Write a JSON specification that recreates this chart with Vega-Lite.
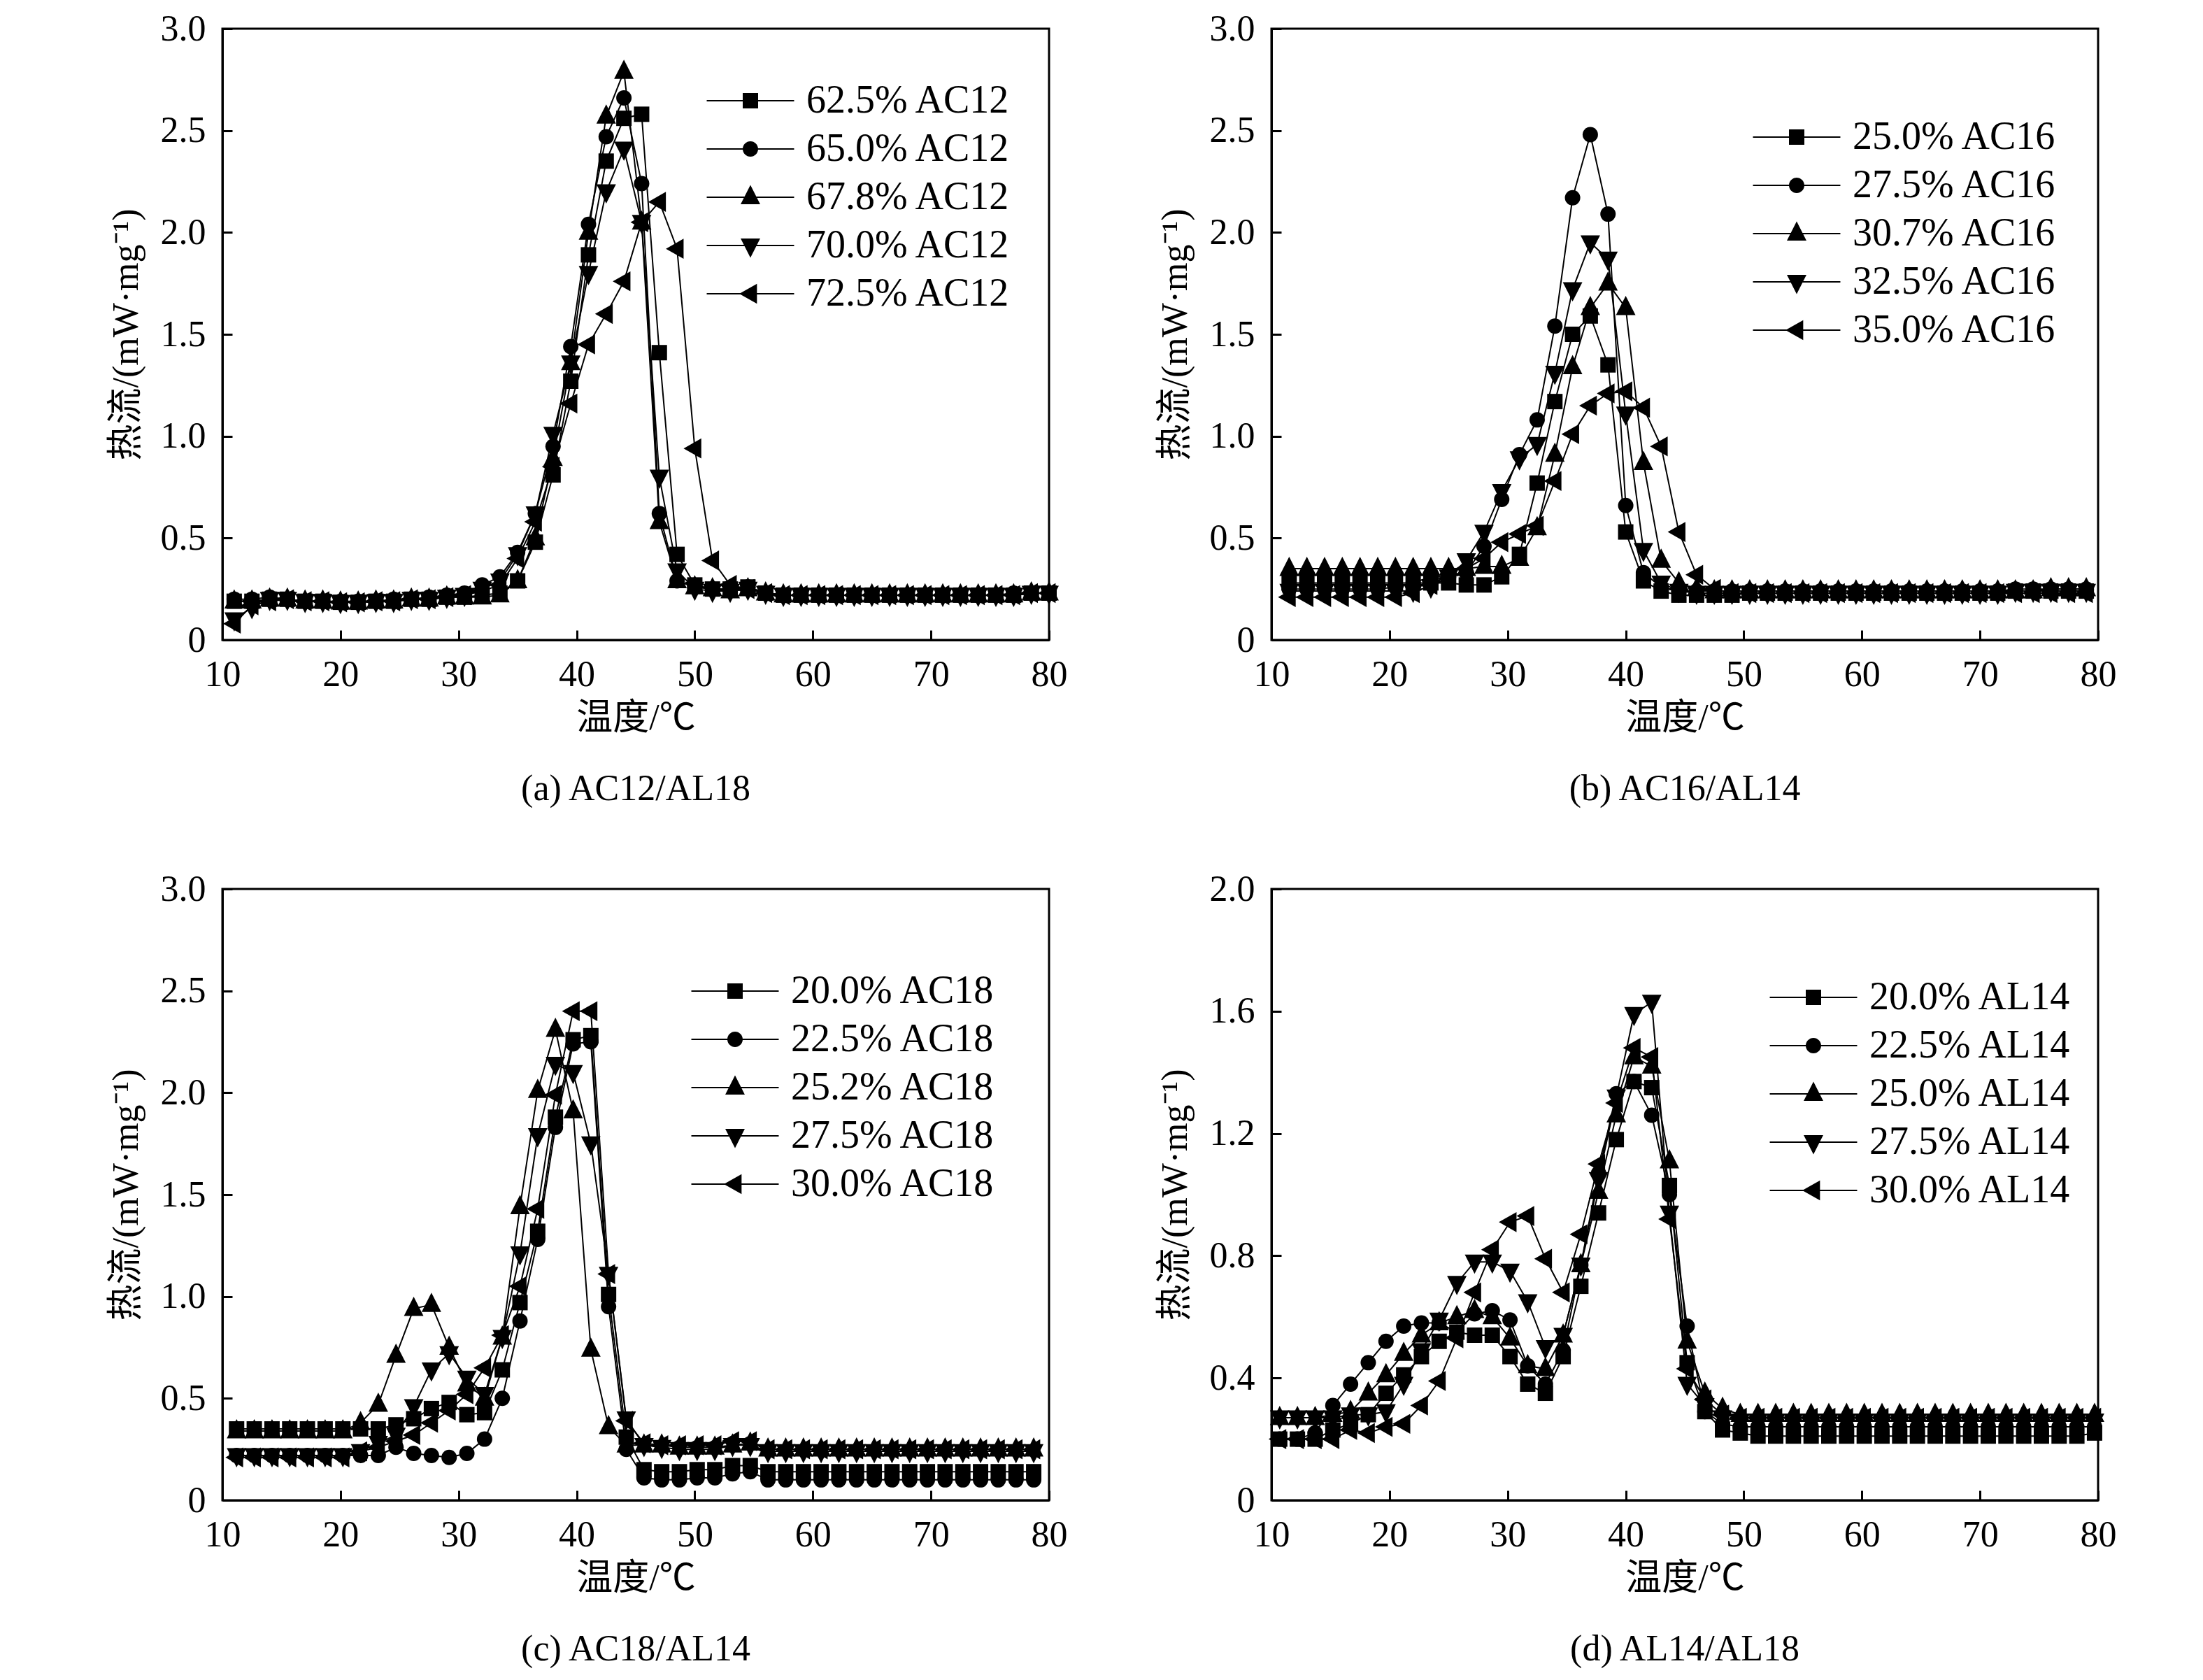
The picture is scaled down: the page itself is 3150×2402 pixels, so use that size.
{
  "$schema": "https://vega.github.io/schema/vega-lite/v6.json",
  "background": "white",
  "padding": {"left": 152, "top": 13, "right": 10, "bottom": 10},
  "config": {
    "font": "Liberation Serif, Noto Sans CJK SC",
    "view": {"stroke": "black", "strokeWidth": 3},
    "axis": {
      "grid": false, "domainColor": "black", "domainWidth": 3,
      "tickColor": "black", "tickWidth": 3, "tickSize": -14,
      "labelFont": "Liberation Serif", "labelFontSize": 52, "labelColor": "black", "labelPadding": 38,
      "labelFlush": false, "labelOverlap": false,
      "titleFont": "Liberation Serif, Noto Sans CJK SC", "titleFontSize": 52, "titleFontWeight": "normal", "titleColor": "black"
    },
    "axisX": {"titlePadding": 11},
    "axisY": {"titlePadding": 22},
    "legend": {
      "orient": "none", "title": null, "padding": 0,
      "labelFont": "Liberation Serif", "labelFontSize": 56, "labelColor": "black", "labelLimit": 0,
      "labelOffset": 52, "rowPadding": 13, "symbolSize": 484,
      "symbolFillColor": "black", "symbolStrokeWidth": 0, "symbolOpacity": 1
    },
    "title": {"font": "Liberation Serif", "fontSize": 52, "fontWeight": "normal", "color": "black", "orient": "bottom", "anchor": "middle", "offset": 51}
  },
  "columns": 2,
  "spacing": {"row": 356, "column": 318},
  "bounds": "flush",
  "datasets": {
    "a": [
      {"t":11,"v":0.19,"s":"62.5% AC12"},{"t":12.5,"v":0.19,"s":"62.5% AC12"},{"t":14,"v":0.20,"s":"62.5% AC12"},{"t":15.5,"v":0.20,"s":"62.5% AC12"},{"t":17,"v":0.19,"s":"62.5% AC12"},{"t":18.5,"v":0.19,"s":"62.5% AC12"},{"t":20,"v":0.185,"s":"62.5% AC12"},{"t":21.5,"v":0.185,"s":"62.5% AC12"},{"t":23,"v":0.19,"s":"62.5% AC12"},{"t":24.5,"v":0.19,"s":"62.5% AC12"},{"t":26,"v":0.20,"s":"62.5% AC12"},{"t":27.5,"v":0.20,"s":"62.5% AC12"},{"t":29,"v":0.21,"s":"62.5% AC12"},{"t":30.5,"v":0.21,"s":"62.5% AC12"},{"t":32,"v":0.22,"s":"62.5% AC12"},{"t":33.5,"v":0.23,"s":"62.5% AC12"},{"t":35,"v":0.29,"s":"62.5% AC12"},{"t":36.5,"v":0.48,"s":"62.5% AC12"},{"t":38,"v":0.81,"s":"62.5% AC12"},{"t":39.5,"v":1.27,"s":"62.5% AC12"},{"t":41,"v":1.89,"s":"62.5% AC12"},{"t":42.5,"v":2.35,"s":"62.5% AC12"},{"t":44,"v":2.56,"s":"62.5% AC12"},{"t":45.5,"v":2.58,"s":"62.5% AC12"},{"t":47,"v":1.41,"s":"62.5% AC12"},{"t":48.5,"v":0.42,"s":"62.5% AC12"},{"t":50,"v":0.27,"s":"62.5% AC12"},{"t":51.5,"v":0.25,"s":"62.5% AC12"},{"t":53,"v":0.25,"s":"62.5% AC12"},{"t":54.5,"v":0.26,"s":"62.5% AC12"},{"t":56,"v":0.23,"s":"62.5% AC12"},{"t":57.5,"v":0.22,"s":"62.5% AC12"},{"t":59,"v":0.22,"s":"62.5% AC12"},{"t":60.5,"v":0.22,"s":"62.5% AC12"},{"t":62,"v":0.22,"s":"62.5% AC12"},{"t":63.5,"v":0.22,"s":"62.5% AC12"},{"t":65,"v":0.22,"s":"62.5% AC12"},{"t":66.5,"v":0.22,"s":"62.5% AC12"},{"t":68,"v":0.22,"s":"62.5% AC12"},{"t":69.5,"v":0.22,"s":"62.5% AC12"},{"t":71,"v":0.22,"s":"62.5% AC12"},{"t":72.5,"v":0.22,"s":"62.5% AC12"},{"t":74,"v":0.22,"s":"62.5% AC12"},{"t":75.5,"v":0.22,"s":"62.5% AC12"},{"t":77,"v":0.22,"s":"62.5% AC12"},{"t":78.5,"v":0.23,"s":"62.5% AC12"},{"t":80,"v":0.23,"s":"62.5% AC12"},
      {"t":11,"v":0.20,"s":"65.0% AC12"},{"t":12.5,"v":0.20,"s":"65.0% AC12"},{"t":14,"v":0.21,"s":"65.0% AC12"},{"t":15.5,"v":0.20,"s":"65.0% AC12"},{"t":17,"v":0.19,"s":"65.0% AC12"},{"t":18.5,"v":0.19,"s":"65.0% AC12"},{"t":20,"v":0.19,"s":"65.0% AC12"},{"t":21.5,"v":0.19,"s":"65.0% AC12"},{"t":23,"v":0.19,"s":"65.0% AC12"},{"t":24.5,"v":0.20,"s":"65.0% AC12"},{"t":26,"v":0.20,"s":"65.0% AC12"},{"t":27.5,"v":0.21,"s":"65.0% AC12"},{"t":29,"v":0.22,"s":"65.0% AC12"},{"t":30.5,"v":0.23,"s":"65.0% AC12"},{"t":32,"v":0.27,"s":"65.0% AC12"},{"t":33.5,"v":0.31,"s":"65.0% AC12"},{"t":35,"v":0.43,"s":"65.0% AC12"},{"t":36.5,"v":0.62,"s":"65.0% AC12"},{"t":38,"v":0.95,"s":"65.0% AC12"},{"t":39.5,"v":1.44,"s":"65.0% AC12"},{"t":41,"v":2.04,"s":"65.0% AC12"},{"t":42.5,"v":2.47,"s":"65.0% AC12"},{"t":44,"v":2.66,"s":"65.0% AC12"},{"t":45.5,"v":2.24,"s":"65.0% AC12"},{"t":47,"v":0.62,"s":"65.0% AC12"},{"t":48.5,"v":0.29,"s":"65.0% AC12"},{"t":50,"v":0.26,"s":"65.0% AC12"},{"t":51.5,"v":0.25,"s":"65.0% AC12"},{"t":53,"v":0.25,"s":"65.0% AC12"},{"t":54.5,"v":0.26,"s":"65.0% AC12"},{"t":56,"v":0.23,"s":"65.0% AC12"},{"t":57.5,"v":0.22,"s":"65.0% AC12"},{"t":59,"v":0.22,"s":"65.0% AC12"},{"t":60.5,"v":0.22,"s":"65.0% AC12"},{"t":62,"v":0.22,"s":"65.0% AC12"},{"t":63.5,"v":0.22,"s":"65.0% AC12"},{"t":65,"v":0.22,"s":"65.0% AC12"},{"t":66.5,"v":0.22,"s":"65.0% AC12"},{"t":68,"v":0.22,"s":"65.0% AC12"},{"t":69.5,"v":0.22,"s":"65.0% AC12"},{"t":71,"v":0.22,"s":"65.0% AC12"},{"t":72.5,"v":0.22,"s":"65.0% AC12"},{"t":74,"v":0.22,"s":"65.0% AC12"},{"t":75.5,"v":0.22,"s":"65.0% AC12"},{"t":77,"v":0.23,"s":"65.0% AC12"},{"t":78.5,"v":0.23,"s":"65.0% AC12"},{"t":80,"v":0.23,"s":"65.0% AC12"},
      {"t":11,"v":0.19,"s":"67.8% AC12"},{"t":12.5,"v":0.19,"s":"67.8% AC12"},{"t":14,"v":0.20,"s":"67.8% AC12"},{"t":15.5,"v":0.20,"s":"67.8% AC12"},{"t":17,"v":0.19,"s":"67.8% AC12"},{"t":18.5,"v":0.19,"s":"67.8% AC12"},{"t":20,"v":0.185,"s":"67.8% AC12"},{"t":21.5,"v":0.185,"s":"67.8% AC12"},{"t":23,"v":0.19,"s":"67.8% AC12"},{"t":24.5,"v":0.19,"s":"67.8% AC12"},{"t":26,"v":0.20,"s":"67.8% AC12"},{"t":27.5,"v":0.20,"s":"67.8% AC12"},{"t":29,"v":0.21,"s":"67.8% AC12"},{"t":30.5,"v":0.21,"s":"67.8% AC12"},{"t":32,"v":0.21,"s":"67.8% AC12"},{"t":33.5,"v":0.22,"s":"67.8% AC12"},{"t":35,"v":0.29,"s":"67.8% AC12"},{"t":36.5,"v":0.50,"s":"67.8% AC12"},{"t":38,"v":0.89,"s":"67.8% AC12"},{"t":39.5,"v":1.36,"s":"67.8% AC12"},{"t":41,"v":2.00,"s":"67.8% AC12"},{"t":42.5,"v":2.57,"s":"67.8% AC12"},{"t":44,"v":2.79,"s":"67.8% AC12"},{"t":45.5,"v":2.05,"s":"67.8% AC12"},{"t":47,"v":0.58,"s":"67.8% AC12"},{"t":48.5,"v":0.29,"s":"67.8% AC12"},{"t":50,"v":0.26,"s":"67.8% AC12"},{"t":51.5,"v":0.25,"s":"67.8% AC12"},{"t":53,"v":0.24,"s":"67.8% AC12"},{"t":54.5,"v":0.25,"s":"67.8% AC12"},{"t":56,"v":0.23,"s":"67.8% AC12"},{"t":57.5,"v":0.22,"s":"67.8% AC12"},{"t":59,"v":0.22,"s":"67.8% AC12"},{"t":60.5,"v":0.22,"s":"67.8% AC12"},{"t":62,"v":0.22,"s":"67.8% AC12"},{"t":63.5,"v":0.22,"s":"67.8% AC12"},{"t":65,"v":0.22,"s":"67.8% AC12"},{"t":66.5,"v":0.22,"s":"67.8% AC12"},{"t":68,"v":0.22,"s":"67.8% AC12"},{"t":69.5,"v":0.22,"s":"67.8% AC12"},{"t":71,"v":0.22,"s":"67.8% AC12"},{"t":72.5,"v":0.22,"s":"67.8% AC12"},{"t":74,"v":0.22,"s":"67.8% AC12"},{"t":75.5,"v":0.22,"s":"67.8% AC12"},{"t":77,"v":0.22,"s":"67.8% AC12"},{"t":78.5,"v":0.23,"s":"67.8% AC12"},{"t":80,"v":0.23,"s":"67.8% AC12"},
      {"t":11,"v":0.10,"s":"70.0% AC12"},{"t":12.5,"v":0.16,"s":"70.0% AC12"},{"t":14,"v":0.20,"s":"70.0% AC12"},{"t":15.5,"v":0.20,"s":"70.0% AC12"},{"t":17,"v":0.19,"s":"70.0% AC12"},{"t":18.5,"v":0.19,"s":"70.0% AC12"},{"t":20,"v":0.185,"s":"70.0% AC12"},{"t":21.5,"v":0.185,"s":"70.0% AC12"},{"t":23,"v":0.19,"s":"70.0% AC12"},{"t":24.5,"v":0.19,"s":"70.0% AC12"},{"t":26,"v":0.20,"s":"70.0% AC12"},{"t":27.5,"v":0.20,"s":"70.0% AC12"},{"t":29,"v":0.21,"s":"70.0% AC12"},{"t":30.5,"v":0.22,"s":"70.0% AC12"},{"t":32,"v":0.25,"s":"70.0% AC12"},{"t":33.5,"v":0.29,"s":"70.0% AC12"},{"t":35,"v":0.42,"s":"70.0% AC12"},{"t":36.5,"v":0.62,"s":"70.0% AC12"},{"t":38,"v":1.01,"s":"70.0% AC12"},{"t":39.5,"v":1.36,"s":"70.0% AC12"},{"t":41,"v":1.80,"s":"70.0% AC12"},{"t":42.5,"v":2.20,"s":"70.0% AC12"},{"t":44,"v":2.41,"s":"70.0% AC12"},{"t":45.5,"v":2.05,"s":"70.0% AC12"},{"t":47,"v":0.80,"s":"70.0% AC12"},{"t":48.5,"v":0.34,"s":"70.0% AC12"},{"t":50,"v":0.25,"s":"70.0% AC12"},{"t":51.5,"v":0.24,"s":"70.0% AC12"},{"t":53,"v":0.24,"s":"70.0% AC12"},{"t":54.5,"v":0.25,"s":"70.0% AC12"},{"t":56,"v":0.23,"s":"70.0% AC12"},{"t":57.5,"v":0.22,"s":"70.0% AC12"},{"t":59,"v":0.22,"s":"70.0% AC12"},{"t":60.5,"v":0.22,"s":"70.0% AC12"},{"t":62,"v":0.22,"s":"70.0% AC12"},{"t":63.5,"v":0.22,"s":"70.0% AC12"},{"t":65,"v":0.22,"s":"70.0% AC12"},{"t":66.5,"v":0.22,"s":"70.0% AC12"},{"t":68,"v":0.22,"s":"70.0% AC12"},{"t":69.5,"v":0.22,"s":"70.0% AC12"},{"t":71,"v":0.22,"s":"70.0% AC12"},{"t":72.5,"v":0.22,"s":"70.0% AC12"},{"t":74,"v":0.22,"s":"70.0% AC12"},{"t":75.5,"v":0.22,"s":"70.0% AC12"},{"t":77,"v":0.22,"s":"70.0% AC12"},{"t":78.5,"v":0.23,"s":"70.0% AC12"},{"t":80,"v":0.23,"s":"70.0% AC12"},
      {"t":11,"v":0.08,"s":"72.5% AC12"},{"t":12.5,"v":0.17,"s":"72.5% AC12"},{"t":14,"v":0.19,"s":"72.5% AC12"},{"t":15.5,"v":0.20,"s":"72.5% AC12"},{"t":17,"v":0.19,"s":"72.5% AC12"},{"t":18.5,"v":0.19,"s":"72.5% AC12"},{"t":20,"v":0.185,"s":"72.5% AC12"},{"t":21.5,"v":0.185,"s":"72.5% AC12"},{"t":23,"v":0.19,"s":"72.5% AC12"},{"t":24.5,"v":0.19,"s":"72.5% AC12"},{"t":26,"v":0.20,"s":"72.5% AC12"},{"t":27.5,"v":0.20,"s":"72.5% AC12"},{"t":29,"v":0.21,"s":"72.5% AC12"},{"t":30.5,"v":0.22,"s":"72.5% AC12"},{"t":32,"v":0.24,"s":"72.5% AC12"},{"t":33.5,"v":0.27,"s":"72.5% AC12"},{"t":35,"v":0.40,"s":"72.5% AC12"},{"t":36.5,"v":0.58,"s":"72.5% AC12"},{"t":38,"v":0.85,"s":"72.5% AC12"},{"t":39.5,"v":1.16,"s":"72.5% AC12"},{"t":41,"v":1.45,"s":"72.5% AC12"},{"t":42.5,"v":1.60,"s":"72.5% AC12"},{"t":44,"v":1.76,"s":"72.5% AC12"},{"t":45.5,"v":2.05,"s":"72.5% AC12"},{"t":47,"v":2.15,"s":"72.5% AC12"},{"t":48.5,"v":1.92,"s":"72.5% AC12"},{"t":50,"v":0.94,"s":"72.5% AC12"},{"t":51.5,"v":0.39,"s":"72.5% AC12"},{"t":53,"v":0.27,"s":"72.5% AC12"},{"t":54.5,"v":0.25,"s":"72.5% AC12"},{"t":56,"v":0.23,"s":"72.5% AC12"},{"t":57.5,"v":0.22,"s":"72.5% AC12"},{"t":59,"v":0.22,"s":"72.5% AC12"},{"t":60.5,"v":0.22,"s":"72.5% AC12"},{"t":62,"v":0.22,"s":"72.5% AC12"},{"t":63.5,"v":0.22,"s":"72.5% AC12"},{"t":65,"v":0.22,"s":"72.5% AC12"},{"t":66.5,"v":0.22,"s":"72.5% AC12"},{"t":68,"v":0.22,"s":"72.5% AC12"},{"t":69.5,"v":0.22,"s":"72.5% AC12"},{"t":71,"v":0.22,"s":"72.5% AC12"},{"t":72.5,"v":0.22,"s":"72.5% AC12"},{"t":74,"v":0.22,"s":"72.5% AC12"},{"t":75.5,"v":0.22,"s":"72.5% AC12"},{"t":77,"v":0.22,"s":"72.5% AC12"},{"t":78.5,"v":0.23,"s":"72.5% AC12"},{"t":80,"v":0.23,"s":"72.5% AC12"}
    ],
    "b": [
      {"t":11.5,"v":0.28,"s":"25.0% AC16"},{"t":13,"v":0.28,"s":"25.0% AC16"},{"t":14.5,"v":0.28,"s":"25.0% AC16"},{"t":16,"v":0.28,"s":"25.0% AC16"},{"t":17.5,"v":0.28,"s":"25.0% AC16"},{"t":19,"v":0.28,"s":"25.0% AC16"},{"t":20.5,"v":0.28,"s":"25.0% AC16"},{"t":22,"v":0.28,"s":"25.0% AC16"},{"t":23.5,"v":0.28,"s":"25.0% AC16"},{"t":25,"v":0.28,"s":"25.0% AC16"},{"t":26.5,"v":0.27,"s":"25.0% AC16"},{"t":28,"v":0.27,"s":"25.0% AC16"},{"t":29.5,"v":0.31,"s":"25.0% AC16"},{"t":31,"v":0.42,"s":"25.0% AC16"},{"t":32.5,"v":0.77,"s":"25.0% AC16"},{"t":34,"v":1.17,"s":"25.0% AC16"},{"t":35.5,"v":1.50,"s":"25.0% AC16"},{"t":37,"v":1.59,"s":"25.0% AC16"},{"t":38.5,"v":1.35,"s":"25.0% AC16"},{"t":40,"v":0.53,"s":"25.0% AC16"},{"t":41.5,"v":0.29,"s":"25.0% AC16"},{"t":43,"v":0.24,"s":"25.0% AC16"},{"t":44.5,"v":0.22,"s":"25.0% AC16"},{"t":46,"v":0.22,"s":"25.0% AC16"},{"t":47.5,"v":0.22,"s":"25.0% AC16"},{"t":49,"v":0.22,"s":"25.0% AC16"},{"t":50.5,"v":0.23,"s":"25.0% AC16"},{"t":52,"v":0.23,"s":"25.0% AC16"},{"t":53.5,"v":0.23,"s":"25.0% AC16"},{"t":55,"v":0.23,"s":"25.0% AC16"},{"t":56.5,"v":0.23,"s":"25.0% AC16"},{"t":58,"v":0.23,"s":"25.0% AC16"},{"t":59.5,"v":0.23,"s":"25.0% AC16"},{"t":61,"v":0.23,"s":"25.0% AC16"},{"t":62.5,"v":0.23,"s":"25.0% AC16"},{"t":64,"v":0.23,"s":"25.0% AC16"},{"t":65.5,"v":0.23,"s":"25.0% AC16"},{"t":67,"v":0.23,"s":"25.0% AC16"},{"t":68.5,"v":0.23,"s":"25.0% AC16"},{"t":70,"v":0.23,"s":"25.0% AC16"},{"t":71.5,"v":0.23,"s":"25.0% AC16"},{"t":73,"v":0.24,"s":"25.0% AC16"},{"t":74.5,"v":0.24,"s":"25.0% AC16"},{"t":76,"v":0.24,"s":"25.0% AC16"},{"t":77.5,"v":0.24,"s":"25.0% AC16"},{"t":79,"v":0.24,"s":"25.0% AC16"},
      {"t":11.5,"v":0.25,"s":"27.5% AC16"},{"t":13,"v":0.25,"s":"27.5% AC16"},{"t":14.5,"v":0.25,"s":"27.5% AC16"},{"t":16,"v":0.25,"s":"27.5% AC16"},{"t":17.5,"v":0.25,"s":"27.5% AC16"},{"t":19,"v":0.25,"s":"27.5% AC16"},{"t":20.5,"v":0.26,"s":"27.5% AC16"},{"t":22,"v":0.28,"s":"27.5% AC16"},{"t":23.5,"v":0.31,"s":"27.5% AC16"},{"t":25,"v":0.31,"s":"27.5% AC16"},{"t":26.5,"v":0.33,"s":"27.5% AC16"},{"t":28,"v":0.46,"s":"27.5% AC16"},{"t":29.5,"v":0.69,"s":"27.5% AC16"},{"t":31,"v":0.91,"s":"27.5% AC16"},{"t":32.5,"v":1.08,"s":"27.5% AC16"},{"t":34,"v":1.54,"s":"27.5% AC16"},{"t":35.5,"v":2.17,"s":"27.5% AC16"},{"t":37,"v":2.48,"s":"27.5% AC16"},{"t":38.5,"v":2.09,"s":"27.5% AC16"},{"t":40,"v":0.66,"s":"27.5% AC16"},{"t":41.5,"v":0.33,"s":"27.5% AC16"},{"t":43,"v":0.26,"s":"27.5% AC16"},{"t":44.5,"v":0.24,"s":"27.5% AC16"},{"t":46,"v":0.24,"s":"27.5% AC16"},{"t":47.5,"v":0.24,"s":"27.5% AC16"},{"t":49,"v":0.24,"s":"27.5% AC16"},{"t":50.5,"v":0.24,"s":"27.5% AC16"},{"t":52,"v":0.24,"s":"27.5% AC16"},{"t":53.5,"v":0.24,"s":"27.5% AC16"},{"t":55,"v":0.24,"s":"27.5% AC16"},{"t":56.5,"v":0.24,"s":"27.5% AC16"},{"t":58,"v":0.24,"s":"27.5% AC16"},{"t":59.5,"v":0.24,"s":"27.5% AC16"},{"t":61,"v":0.24,"s":"27.5% AC16"},{"t":62.5,"v":0.24,"s":"27.5% AC16"},{"t":64,"v":0.24,"s":"27.5% AC16"},{"t":65.5,"v":0.24,"s":"27.5% AC16"},{"t":67,"v":0.24,"s":"27.5% AC16"},{"t":68.5,"v":0.24,"s":"27.5% AC16"},{"t":70,"v":0.24,"s":"27.5% AC16"},{"t":71.5,"v":0.24,"s":"27.5% AC16"},{"t":73,"v":0.25,"s":"27.5% AC16"},{"t":74.5,"v":0.25,"s":"27.5% AC16"},{"t":76,"v":0.25,"s":"27.5% AC16"},{"t":77.5,"v":0.25,"s":"27.5% AC16"},{"t":79,"v":0.25,"s":"27.5% AC16"},
      {"t":11.5,"v":0.35,"s":"30.7% AC16"},{"t":13,"v":0.35,"s":"30.7% AC16"},{"t":14.5,"v":0.35,"s":"30.7% AC16"},{"t":16,"v":0.35,"s":"30.7% AC16"},{"t":17.5,"v":0.35,"s":"30.7% AC16"},{"t":19,"v":0.35,"s":"30.7% AC16"},{"t":20.5,"v":0.35,"s":"30.7% AC16"},{"t":22,"v":0.35,"s":"30.7% AC16"},{"t":23.5,"v":0.35,"s":"30.7% AC16"},{"t":25,"v":0.35,"s":"30.7% AC16"},{"t":26.5,"v":0.35,"s":"30.7% AC16"},{"t":28,"v":0.36,"s":"30.7% AC16"},{"t":29.5,"v":0.36,"s":"30.7% AC16"},{"t":31,"v":0.40,"s":"30.7% AC16"},{"t":32.5,"v":0.55,"s":"30.7% AC16"},{"t":34,"v":0.91,"s":"30.7% AC16"},{"t":35.5,"v":1.34,"s":"30.7% AC16"},{"t":37,"v":1.63,"s":"30.7% AC16"},{"t":38.5,"v":1.75,"s":"30.7% AC16"},{"t":40,"v":1.63,"s":"30.7% AC16"},{"t":41.5,"v":0.87,"s":"30.7% AC16"},{"t":43,"v":0.39,"s":"30.7% AC16"},{"t":44.5,"v":0.28,"s":"30.7% AC16"},{"t":46,"v":0.25,"s":"30.7% AC16"},{"t":47.5,"v":0.24,"s":"30.7% AC16"},{"t":49,"v":0.24,"s":"30.7% AC16"},{"t":50.5,"v":0.24,"s":"30.7% AC16"},{"t":52,"v":0.24,"s":"30.7% AC16"},{"t":53.5,"v":0.24,"s":"30.7% AC16"},{"t":55,"v":0.24,"s":"30.7% AC16"},{"t":56.5,"v":0.24,"s":"30.7% AC16"},{"t":58,"v":0.24,"s":"30.7% AC16"},{"t":59.5,"v":0.24,"s":"30.7% AC16"},{"t":61,"v":0.24,"s":"30.7% AC16"},{"t":62.5,"v":0.24,"s":"30.7% AC16"},{"t":64,"v":0.24,"s":"30.7% AC16"},{"t":65.5,"v":0.24,"s":"30.7% AC16"},{"t":67,"v":0.24,"s":"30.7% AC16"},{"t":68.5,"v":0.24,"s":"30.7% AC16"},{"t":70,"v":0.24,"s":"30.7% AC16"},{"t":71.5,"v":0.24,"s":"30.7% AC16"},{"t":73,"v":0.24,"s":"30.7% AC16"},{"t":74.5,"v":0.24,"s":"30.7% AC16"},{"t":76,"v":0.25,"s":"30.7% AC16"},{"t":77.5,"v":0.25,"s":"30.7% AC16"},{"t":79,"v":0.25,"s":"30.7% AC16"},
      {"t":11.5,"v":0.24,"s":"32.5% AC16"},{"t":13,"v":0.24,"s":"32.5% AC16"},{"t":14.5,"v":0.24,"s":"32.5% AC16"},{"t":16,"v":0.24,"s":"32.5% AC16"},{"t":17.5,"v":0.24,"s":"32.5% AC16"},{"t":19,"v":0.24,"s":"32.5% AC16"},{"t":20.5,"v":0.24,"s":"32.5% AC16"},{"t":22,"v":0.24,"s":"32.5% AC16"},{"t":23.5,"v":0.26,"s":"32.5% AC16"},{"t":25,"v":0.31,"s":"32.5% AC16"},{"t":26.5,"v":0.39,"s":"32.5% AC16"},{"t":28,"v":0.53,"s":"32.5% AC16"},{"t":29.5,"v":0.73,"s":"32.5% AC16"},{"t":31,"v":0.89,"s":"32.5% AC16"},{"t":32.5,"v":0.96,"s":"32.5% AC16"},{"t":34,"v":1.31,"s":"32.5% AC16"},{"t":35.5,"v":1.72,"s":"32.5% AC16"},{"t":37,"v":1.95,"s":"32.5% AC16"},{"t":38.5,"v":1.87,"s":"32.5% AC16"},{"t":40,"v":1.11,"s":"32.5% AC16"},{"t":41.5,"v":0.44,"s":"32.5% AC16"},{"t":43,"v":0.28,"s":"32.5% AC16"},{"t":44.5,"v":0.24,"s":"32.5% AC16"},{"t":46,"v":0.23,"s":"32.5% AC16"},{"t":47.5,"v":0.23,"s":"32.5% AC16"},{"t":49,"v":0.23,"s":"32.5% AC16"},{"t":50.5,"v":0.23,"s":"32.5% AC16"},{"t":52,"v":0.23,"s":"32.5% AC16"},{"t":53.5,"v":0.23,"s":"32.5% AC16"},{"t":55,"v":0.23,"s":"32.5% AC16"},{"t":56.5,"v":0.23,"s":"32.5% AC16"},{"t":58,"v":0.23,"s":"32.5% AC16"},{"t":59.5,"v":0.23,"s":"32.5% AC16"},{"t":61,"v":0.23,"s":"32.5% AC16"},{"t":62.5,"v":0.23,"s":"32.5% AC16"},{"t":64,"v":0.23,"s":"32.5% AC16"},{"t":65.5,"v":0.23,"s":"32.5% AC16"},{"t":67,"v":0.23,"s":"32.5% AC16"},{"t":68.5,"v":0.23,"s":"32.5% AC16"},{"t":70,"v":0.23,"s":"32.5% AC16"},{"t":71.5,"v":0.23,"s":"32.5% AC16"},{"t":73,"v":0.24,"s":"32.5% AC16"},{"t":74.5,"v":0.24,"s":"32.5% AC16"},{"t":76,"v":0.24,"s":"32.5% AC16"},{"t":77.5,"v":0.24,"s":"32.5% AC16"},{"t":79,"v":0.24,"s":"32.5% AC16"},
      {"t":11.5,"v":0.21,"s":"35.0% AC16"},{"t":13,"v":0.21,"s":"35.0% AC16"},{"t":14.5,"v":0.21,"s":"35.0% AC16"},{"t":16,"v":0.21,"s":"35.0% AC16"},{"t":17.5,"v":0.21,"s":"35.0% AC16"},{"t":19,"v":0.21,"s":"35.0% AC16"},{"t":20.5,"v":0.21,"s":"35.0% AC16"},{"t":22,"v":0.23,"s":"35.0% AC16"},{"t":23.5,"v":0.27,"s":"35.0% AC16"},{"t":25,"v":0.30,"s":"35.0% AC16"},{"t":26.5,"v":0.35,"s":"35.0% AC16"},{"t":28,"v":0.40,"s":"35.0% AC16"},{"t":29.5,"v":0.48,"s":"35.0% AC16"},{"t":31,"v":0.52,"s":"35.0% AC16"},{"t":32.5,"v":0.56,"s":"35.0% AC16"},{"t":34,"v":0.78,"s":"35.0% AC16"},{"t":35.5,"v":1.01,"s":"35.0% AC16"},{"t":37,"v":1.15,"s":"35.0% AC16"},{"t":38.5,"v":1.21,"s":"35.0% AC16"},{"t":40,"v":1.22,"s":"35.0% AC16"},{"t":41.5,"v":1.14,"s":"35.0% AC16"},{"t":43,"v":0.95,"s":"35.0% AC16"},{"t":44.5,"v":0.53,"s":"35.0% AC16"},{"t":46,"v":0.32,"s":"35.0% AC16"},{"t":47.5,"v":0.25,"s":"35.0% AC16"},{"t":49,"v":0.23,"s":"35.0% AC16"},{"t":50.5,"v":0.23,"s":"35.0% AC16"},{"t":52,"v":0.23,"s":"35.0% AC16"},{"t":53.5,"v":0.23,"s":"35.0% AC16"},{"t":55,"v":0.23,"s":"35.0% AC16"},{"t":56.5,"v":0.23,"s":"35.0% AC16"},{"t":58,"v":0.23,"s":"35.0% AC16"},{"t":59.5,"v":0.23,"s":"35.0% AC16"},{"t":61,"v":0.23,"s":"35.0% AC16"},{"t":62.5,"v":0.23,"s":"35.0% AC16"},{"t":64,"v":0.23,"s":"35.0% AC16"},{"t":65.5,"v":0.23,"s":"35.0% AC16"},{"t":67,"v":0.23,"s":"35.0% AC16"},{"t":68.5,"v":0.23,"s":"35.0% AC16"},{"t":70,"v":0.23,"s":"35.0% AC16"},{"t":71.5,"v":0.23,"s":"35.0% AC16"},{"t":73,"v":0.23,"s":"35.0% AC16"},{"t":74.5,"v":0.23,"s":"35.0% AC16"},{"t":76,"v":0.23,"s":"35.0% AC16"},{"t":77.5,"v":0.23,"s":"35.0% AC16"},{"t":79,"v":0.23,"s":"35.0% AC16"}
    ],
    "c": [
      {"t":11.2,"v":0.35,"s":"20.0% AC18"},{"t":12.7,"v":0.35,"s":"20.0% AC18"},{"t":14.2,"v":0.35,"s":"20.0% AC18"},{"t":15.7,"v":0.35,"s":"20.0% AC18"},{"t":17.2,"v":0.35,"s":"20.0% AC18"},{"t":18.7,"v":0.35,"s":"20.0% AC18"},{"t":20.2,"v":0.35,"s":"20.0% AC18"},{"t":21.7,"v":0.35,"s":"20.0% AC18"},{"t":23.2,"v":0.35,"s":"20.0% AC18"},{"t":24.7,"v":0.37,"s":"20.0% AC18"},{"t":26.2,"v":0.40,"s":"20.0% AC18"},{"t":27.7,"v":0.45,"s":"20.0% AC18"},{"t":29.2,"v":0.48,"s":"20.0% AC18"},{"t":30.7,"v":0.42,"s":"20.0% AC18"},{"t":32.2,"v":0.43,"s":"20.0% AC18"},{"t":33.7,"v":0.64,"s":"20.0% AC18"},{"t":35.2,"v":0.97,"s":"20.0% AC18"},{"t":36.7,"v":1.32,"s":"20.0% AC18"},{"t":38.2,"v":1.88,"s":"20.0% AC18"},{"t":39.7,"v":2.26,"s":"20.0% AC18"},{"t":41.2,"v":2.28,"s":"20.0% AC18"},{"t":42.7,"v":1.01,"s":"20.0% AC18"},{"t":44.2,"v":0.31,"s":"20.0% AC18"},{"t":45.7,"v":0.15,"s":"20.0% AC18"},{"t":47.2,"v":0.14,"s":"20.0% AC18"},{"t":48.7,"v":0.14,"s":"20.0% AC18"},{"t":50.2,"v":0.15,"s":"20.0% AC18"},{"t":51.7,"v":0.15,"s":"20.0% AC18"},{"t":53.2,"v":0.17,"s":"20.0% AC18"},{"t":54.7,"v":0.17,"s":"20.0% AC18"},{"t":56.2,"v":0.14,"s":"20.0% AC18"},{"t":57.7,"v":0.14,"s":"20.0% AC18"},{"t":59.2,"v":0.14,"s":"20.0% AC18"},{"t":60.7,"v":0.14,"s":"20.0% AC18"},{"t":62.2,"v":0.14,"s":"20.0% AC18"},{"t":63.7,"v":0.14,"s":"20.0% AC18"},{"t":65.2,"v":0.14,"s":"20.0% AC18"},{"t":66.7,"v":0.14,"s":"20.0% AC18"},{"t":68.2,"v":0.14,"s":"20.0% AC18"},{"t":69.7,"v":0.14,"s":"20.0% AC18"},{"t":71.2,"v":0.14,"s":"20.0% AC18"},{"t":72.7,"v":0.14,"s":"20.0% AC18"},{"t":74.2,"v":0.14,"s":"20.0% AC18"},{"t":75.7,"v":0.14,"s":"20.0% AC18"},{"t":77.2,"v":0.14,"s":"20.0% AC18"},{"t":78.7,"v":0.14,"s":"20.0% AC18"},
      {"t":11.2,"v":0.22,"s":"22.5% AC18"},{"t":12.7,"v":0.22,"s":"22.5% AC18"},{"t":14.2,"v":0.22,"s":"22.5% AC18"},{"t":15.7,"v":0.22,"s":"22.5% AC18"},{"t":17.2,"v":0.22,"s":"22.5% AC18"},{"t":18.7,"v":0.22,"s":"22.5% AC18"},{"t":20.2,"v":0.22,"s":"22.5% AC18"},{"t":21.7,"v":0.22,"s":"22.5% AC18"},{"t":23.2,"v":0.22,"s":"22.5% AC18"},{"t":24.7,"v":0.26,"s":"22.5% AC18"},{"t":26.2,"v":0.23,"s":"22.5% AC18"},{"t":27.7,"v":0.22,"s":"22.5% AC18"},{"t":29.2,"v":0.21,"s":"22.5% AC18"},{"t":30.7,"v":0.23,"s":"22.5% AC18"},{"t":32.2,"v":0.30,"s":"22.5% AC18"},{"t":33.7,"v":0.50,"s":"22.5% AC18"},{"t":35.2,"v":0.88,"s":"22.5% AC18"},{"t":36.7,"v":1.28,"s":"22.5% AC18"},{"t":38.2,"v":1.83,"s":"22.5% AC18"},{"t":39.7,"v":2.24,"s":"22.5% AC18"},{"t":41.2,"v":2.25,"s":"22.5% AC18"},{"t":42.7,"v":0.95,"s":"22.5% AC18"},{"t":44.2,"v":0.25,"s":"22.5% AC18"},{"t":45.7,"v":0.11,"s":"22.5% AC18"},{"t":47.2,"v":0.10,"s":"22.5% AC18"},{"t":48.7,"v":0.10,"s":"22.5% AC18"},{"t":50.2,"v":0.11,"s":"22.5% AC18"},{"t":51.7,"v":0.11,"s":"22.5% AC18"},{"t":53.2,"v":0.13,"s":"22.5% AC18"},{"t":54.7,"v":0.14,"s":"22.5% AC18"},{"t":56.2,"v":0.10,"s":"22.5% AC18"},{"t":57.7,"v":0.10,"s":"22.5% AC18"},{"t":59.2,"v":0.10,"s":"22.5% AC18"},{"t":60.7,"v":0.10,"s":"22.5% AC18"},{"t":62.2,"v":0.10,"s":"22.5% AC18"},{"t":63.7,"v":0.10,"s":"22.5% AC18"},{"t":65.2,"v":0.10,"s":"22.5% AC18"},{"t":66.7,"v":0.10,"s":"22.5% AC18"},{"t":68.2,"v":0.10,"s":"22.5% AC18"},{"t":69.7,"v":0.10,"s":"22.5% AC18"},{"t":71.2,"v":0.10,"s":"22.5% AC18"},{"t":72.7,"v":0.10,"s":"22.5% AC18"},{"t":74.2,"v":0.10,"s":"22.5% AC18"},{"t":75.7,"v":0.10,"s":"22.5% AC18"},{"t":77.2,"v":0.10,"s":"22.5% AC18"},{"t":78.7,"v":0.10,"s":"22.5% AC18"},
      {"t":11.2,"v":0.34,"s":"25.2% AC18"},{"t":12.7,"v":0.34,"s":"25.2% AC18"},{"t":14.2,"v":0.34,"s":"25.2% AC18"},{"t":15.7,"v":0.34,"s":"25.2% AC18"},{"t":17.2,"v":0.34,"s":"25.2% AC18"},{"t":18.7,"v":0.34,"s":"25.2% AC18"},{"t":20.2,"v":0.34,"s":"25.2% AC18"},{"t":21.7,"v":0.38,"s":"25.2% AC18"},{"t":23.2,"v":0.47,"s":"25.2% AC18"},{"t":24.7,"v":0.71,"s":"25.2% AC18"},{"t":26.2,"v":0.94,"s":"25.2% AC18"},{"t":27.7,"v":0.96,"s":"25.2% AC18"},{"t":29.2,"v":0.75,"s":"25.2% AC18"},{"t":30.7,"v":0.57,"s":"25.2% AC18"},{"t":32.2,"v":0.50,"s":"25.2% AC18"},{"t":33.7,"v":0.80,"s":"25.2% AC18"},{"t":35.2,"v":1.44,"s":"25.2% AC18"},{"t":36.7,"v":2.01,"s":"25.2% AC18"},{"t":38.2,"v":2.31,"s":"25.2% AC18"},{"t":39.7,"v":1.91,"s":"25.2% AC18"},{"t":41.2,"v":0.74,"s":"25.2% AC18"},{"t":42.7,"v":0.36,"s":"25.2% AC18"},{"t":44.2,"v":0.27,"s":"25.2% AC18"},{"t":45.7,"v":0.27,"s":"25.2% AC18"},{"t":47.2,"v":0.27,"s":"25.2% AC18"},{"t":48.7,"v":0.26,"s":"25.2% AC18"},{"t":50.2,"v":0.26,"s":"25.2% AC18"},{"t":51.7,"v":0.26,"s":"25.2% AC18"},{"t":53.2,"v":0.27,"s":"25.2% AC18"},{"t":54.7,"v":0.28,"s":"25.2% AC18"},{"t":56.2,"v":0.25,"s":"25.2% AC18"},{"t":57.7,"v":0.25,"s":"25.2% AC18"},{"t":59.2,"v":0.25,"s":"25.2% AC18"},{"t":60.7,"v":0.25,"s":"25.2% AC18"},{"t":62.2,"v":0.25,"s":"25.2% AC18"},{"t":63.7,"v":0.25,"s":"25.2% AC18"},{"t":65.2,"v":0.25,"s":"25.2% AC18"},{"t":66.7,"v":0.25,"s":"25.2% AC18"},{"t":68.2,"v":0.25,"s":"25.2% AC18"},{"t":69.7,"v":0.25,"s":"25.2% AC18"},{"t":71.2,"v":0.25,"s":"25.2% AC18"},{"t":72.7,"v":0.25,"s":"25.2% AC18"},{"t":74.2,"v":0.25,"s":"25.2% AC18"},{"t":75.7,"v":0.25,"s":"25.2% AC18"},{"t":77.2,"v":0.25,"s":"25.2% AC18"},{"t":78.7,"v":0.25,"s":"25.2% AC18"},
      {"t":11.2,"v":0.22,"s":"27.5% AC18"},{"t":12.7,"v":0.22,"s":"27.5% AC18"},{"t":14.2,"v":0.22,"s":"27.5% AC18"},{"t":15.7,"v":0.22,"s":"27.5% AC18"},{"t":17.2,"v":0.22,"s":"27.5% AC18"},{"t":18.7,"v":0.22,"s":"27.5% AC18"},{"t":20.2,"v":0.22,"s":"27.5% AC18"},{"t":21.7,"v":0.24,"s":"27.5% AC18"},{"t":23.2,"v":0.28,"s":"27.5% AC18"},{"t":24.7,"v":0.32,"s":"27.5% AC18"},{"t":26.2,"v":0.46,"s":"27.5% AC18"},{"t":27.7,"v":0.64,"s":"27.5% AC18"},{"t":29.2,"v":0.72,"s":"27.5% AC18"},{"t":30.7,"v":0.60,"s":"27.5% AC18"},{"t":32.2,"v":0.52,"s":"27.5% AC18"},{"t":33.7,"v":0.80,"s":"27.5% AC18"},{"t":35.2,"v":1.21,"s":"27.5% AC18"},{"t":36.7,"v":1.79,"s":"27.5% AC18"},{"t":38.2,"v":2.14,"s":"27.5% AC18"},{"t":39.7,"v":2.10,"s":"27.5% AC18"},{"t":41.2,"v":1.75,"s":"27.5% AC18"},{"t":42.7,"v":1.11,"s":"27.5% AC18"},{"t":44.2,"v":0.40,"s":"27.5% AC18"},{"t":45.7,"v":0.27,"s":"27.5% AC18"},{"t":47.2,"v":0.26,"s":"27.5% AC18"},{"t":48.7,"v":0.25,"s":"27.5% AC18"},{"t":50.2,"v":0.25,"s":"27.5% AC18"},{"t":51.7,"v":0.25,"s":"27.5% AC18"},{"t":53.2,"v":0.27,"s":"27.5% AC18"},{"t":54.7,"v":0.27,"s":"27.5% AC18"},{"t":56.2,"v":0.24,"s":"27.5% AC18"},{"t":57.7,"v":0.24,"s":"27.5% AC18"},{"t":59.2,"v":0.24,"s":"27.5% AC18"},{"t":60.7,"v":0.24,"s":"27.5% AC18"},{"t":62.2,"v":0.24,"s":"27.5% AC18"},{"t":63.7,"v":0.24,"s":"27.5% AC18"},{"t":65.2,"v":0.24,"s":"27.5% AC18"},{"t":66.7,"v":0.24,"s":"27.5% AC18"},{"t":68.2,"v":0.24,"s":"27.5% AC18"},{"t":69.7,"v":0.24,"s":"27.5% AC18"},{"t":71.2,"v":0.24,"s":"27.5% AC18"},{"t":72.7,"v":0.24,"s":"27.5% AC18"},{"t":74.2,"v":0.24,"s":"27.5% AC18"},{"t":75.7,"v":0.24,"s":"27.5% AC18"},{"t":77.2,"v":0.24,"s":"27.5% AC18"},{"t":78.7,"v":0.24,"s":"27.5% AC18"},
      {"t":11.2,"v":0.21,"s":"30.0% AC18"},{"t":12.7,"v":0.21,"s":"30.0% AC18"},{"t":14.2,"v":0.21,"s":"30.0% AC18"},{"t":15.7,"v":0.21,"s":"30.0% AC18"},{"t":17.2,"v":0.21,"s":"30.0% AC18"},{"t":18.7,"v":0.21,"s":"30.0% AC18"},{"t":20.2,"v":0.21,"s":"30.0% AC18"},{"t":21.7,"v":0.24,"s":"30.0% AC18"},{"t":23.2,"v":0.26,"s":"30.0% AC18"},{"t":24.7,"v":0.29,"s":"30.0% AC18"},{"t":26.2,"v":0.32,"s":"30.0% AC18"},{"t":27.7,"v":0.38,"s":"30.0% AC18"},{"t":29.2,"v":0.44,"s":"30.0% AC18"},{"t":30.7,"v":0.52,"s":"30.0% AC18"},{"t":32.2,"v":0.65,"s":"30.0% AC18"},{"t":33.7,"v":0.81,"s":"30.0% AC18"},{"t":35.2,"v":1.05,"s":"30.0% AC18"},{"t":36.7,"v":1.43,"s":"30.0% AC18"},{"t":38.2,"v":1.99,"s":"30.0% AC18"},{"t":39.7,"v":2.40,"s":"30.0% AC18"},{"t":41.2,"v":2.40,"s":"30.0% AC18"},{"t":42.7,"v":1.11,"s":"30.0% AC18"},{"t":44.2,"v":0.39,"s":"30.0% AC18"},{"t":45.7,"v":0.28,"s":"30.0% AC18"},{"t":47.2,"v":0.27,"s":"30.0% AC18"},{"t":48.7,"v":0.27,"s":"30.0% AC18"},{"t":50.2,"v":0.27,"s":"30.0% AC18"},{"t":51.7,"v":0.27,"s":"30.0% AC18"},{"t":53.2,"v":0.29,"s":"30.0% AC18"},{"t":54.7,"v":0.29,"s":"30.0% AC18"},{"t":56.2,"v":0.25,"s":"30.0% AC18"},{"t":57.7,"v":0.25,"s":"30.0% AC18"},{"t":59.2,"v":0.25,"s":"30.0% AC18"},{"t":60.7,"v":0.25,"s":"30.0% AC18"},{"t":62.2,"v":0.25,"s":"30.0% AC18"},{"t":63.7,"v":0.25,"s":"30.0% AC18"},{"t":65.2,"v":0.25,"s":"30.0% AC18"},{"t":66.7,"v":0.25,"s":"30.0% AC18"},{"t":68.2,"v":0.25,"s":"30.0% AC18"},{"t":69.7,"v":0.25,"s":"30.0% AC18"},{"t":71.2,"v":0.25,"s":"30.0% AC18"},{"t":72.7,"v":0.25,"s":"30.0% AC18"},{"t":74.2,"v":0.25,"s":"30.0% AC18"},{"t":75.7,"v":0.25,"s":"30.0% AC18"},{"t":77.2,"v":0.25,"s":"30.0% AC18"},{"t":78.7,"v":0.25,"s":"30.0% AC18"}
    ],
    "d": [
      {"t":10.7,"v":0.20,"s":"20.0% AL14"},{"t":12.2,"v":0.20,"s":"20.0% AL14"},{"t":13.7,"v":0.20,"s":"20.0% AL14"},{"t":15.2,"v":0.23,"s":"20.0% AL14"},{"t":16.7,"v":0.25,"s":"20.0% AL14"},{"t":18.2,"v":0.28,"s":"20.0% AL14"},{"t":19.7,"v":0.35,"s":"20.0% AL14"},{"t":21.2,"v":0.41,"s":"20.0% AL14"},{"t":22.7,"v":0.47,"s":"20.0% AL14"},{"t":24.2,"v":0.52,"s":"20.0% AL14"},{"t":25.7,"v":0.55,"s":"20.0% AL14"},{"t":27.2,"v":0.54,"s":"20.0% AL14"},{"t":28.7,"v":0.54,"s":"20.0% AL14"},{"t":30.2,"v":0.47,"s":"20.0% AL14"},{"t":31.7,"v":0.38,"s":"20.0% AL14"},{"t":33.2,"v":0.35,"s":"20.0% AL14"},{"t":34.7,"v":0.47,"s":"20.0% AL14"},{"t":36.2,"v":0.70,"s":"20.0% AL14"},{"t":37.7,"v":0.94,"s":"20.0% AL14"},{"t":39.2,"v":1.18,"s":"20.0% AL14"},{"t":40.7,"v":1.37,"s":"20.0% AL14"},{"t":42.2,"v":1.35,"s":"20.0% AL14"},{"t":43.7,"v":1.03,"s":"20.0% AL14"},{"t":45.2,"v":0.45,"s":"20.0% AL14"},{"t":46.7,"v":0.29,"s":"20.0% AL14"},{"t":48.2,"v":0.23,"s":"20.0% AL14"},{"t":49.7,"v":0.22,"s":"20.0% AL14"},{"t":51.2,"v":0.21,"s":"20.0% AL14"},{"t":52.7,"v":0.21,"s":"20.0% AL14"},{"t":54.2,"v":0.21,"s":"20.0% AL14"},{"t":55.7,"v":0.21,"s":"20.0% AL14"},{"t":57.2,"v":0.21,"s":"20.0% AL14"},{"t":58.7,"v":0.21,"s":"20.0% AL14"},{"t":60.2,"v":0.21,"s":"20.0% AL14"},{"t":61.7,"v":0.21,"s":"20.0% AL14"},{"t":63.2,"v":0.21,"s":"20.0% AL14"},{"t":64.7,"v":0.21,"s":"20.0% AL14"},{"t":66.2,"v":0.21,"s":"20.0% AL14"},{"t":67.7,"v":0.21,"s":"20.0% AL14"},{"t":69.2,"v":0.21,"s":"20.0% AL14"},{"t":70.7,"v":0.21,"s":"20.0% AL14"},{"t":72.2,"v":0.21,"s":"20.0% AL14"},{"t":73.7,"v":0.21,"s":"20.0% AL14"},{"t":75.2,"v":0.21,"s":"20.0% AL14"},{"t":76.7,"v":0.21,"s":"20.0% AL14"},{"t":78.2,"v":0.21,"s":"20.0% AL14"},{"t":79.7,"v":0.22,"s":"20.0% AL14"},
      {"t":10.7,"v":0.20,"s":"22.5% AL14"},{"t":12.2,"v":0.20,"s":"22.5% AL14"},{"t":13.7,"v":0.22,"s":"22.5% AL14"},{"t":15.2,"v":0.31,"s":"22.5% AL14"},{"t":16.7,"v":0.38,"s":"22.5% AL14"},{"t":18.2,"v":0.45,"s":"22.5% AL14"},{"t":19.7,"v":0.52,"s":"22.5% AL14"},{"t":21.2,"v":0.57,"s":"22.5% AL14"},{"t":22.7,"v":0.58,"s":"22.5% AL14"},{"t":24.2,"v":0.58,"s":"22.5% AL14"},{"t":25.7,"v":0.55,"s":"22.5% AL14"},{"t":27.2,"v":0.61,"s":"22.5% AL14"},{"t":28.7,"v":0.62,"s":"22.5% AL14"},{"t":30.2,"v":0.59,"s":"22.5% AL14"},{"t":31.7,"v":0.44,"s":"22.5% AL14"},{"t":33.2,"v":0.38,"s":"22.5% AL14"},{"t":34.7,"v":0.49,"s":"22.5% AL14"},{"t":36.2,"v":0.77,"s":"22.5% AL14"},{"t":37.7,"v":1.07,"s":"22.5% AL14"},{"t":39.2,"v":1.33,"s":"22.5% AL14"},{"t":40.7,"v":1.37,"s":"22.5% AL14"},{"t":42.2,"v":1.26,"s":"22.5% AL14"},{"t":43.7,"v":1.00,"s":"22.5% AL14"},{"t":45.2,"v":0.57,"s":"22.5% AL14"},{"t":46.7,"v":0.29,"s":"22.5% AL14"},{"t":48.2,"v":0.25,"s":"22.5% AL14"},{"t":49.7,"v":0.24,"s":"22.5% AL14"},{"t":51.2,"v":0.24,"s":"22.5% AL14"},{"t":52.7,"v":0.24,"s":"22.5% AL14"},{"t":54.2,"v":0.24,"s":"22.5% AL14"},{"t":55.7,"v":0.24,"s":"22.5% AL14"},{"t":57.2,"v":0.24,"s":"22.5% AL14"},{"t":58.7,"v":0.24,"s":"22.5% AL14"},{"t":60.2,"v":0.24,"s":"22.5% AL14"},{"t":61.7,"v":0.24,"s":"22.5% AL14"},{"t":63.2,"v":0.24,"s":"22.5% AL14"},{"t":64.7,"v":0.24,"s":"22.5% AL14"},{"t":66.2,"v":0.24,"s":"22.5% AL14"},{"t":67.7,"v":0.24,"s":"22.5% AL14"},{"t":69.2,"v":0.24,"s":"22.5% AL14"},{"t":70.7,"v":0.24,"s":"22.5% AL14"},{"t":72.2,"v":0.24,"s":"22.5% AL14"},{"t":73.7,"v":0.24,"s":"22.5% AL14"},{"t":75.2,"v":0.24,"s":"22.5% AL14"},{"t":76.7,"v":0.24,"s":"22.5% AL14"},{"t":78.2,"v":0.24,"s":"22.5% AL14"},{"t":79.7,"v":0.24,"s":"22.5% AL14"},
      {"t":10.7,"v":0.27,"s":"25.0% AL14"},{"t":12.2,"v":0.27,"s":"25.0% AL14"},{"t":13.7,"v":0.27,"s":"25.0% AL14"},{"t":15.2,"v":0.28,"s":"25.0% AL14"},{"t":16.7,"v":0.29,"s":"25.0% AL14"},{"t":18.2,"v":0.35,"s":"25.0% AL14"},{"t":19.7,"v":0.41,"s":"25.0% AL14"},{"t":21.2,"v":0.48,"s":"25.0% AL14"},{"t":22.7,"v":0.54,"s":"25.0% AL14"},{"t":24.2,"v":0.58,"s":"25.0% AL14"},{"t":25.7,"v":0.60,"s":"25.0% AL14"},{"t":27.2,"v":0.62,"s":"25.0% AL14"},{"t":28.7,"v":0.60,"s":"25.0% AL14"},{"t":30.2,"v":0.53,"s":"25.0% AL14"},{"t":31.7,"v":0.44,"s":"25.0% AL14"},{"t":33.2,"v":0.43,"s":"25.0% AL14"},{"t":34.7,"v":0.54,"s":"25.0% AL14"},{"t":36.2,"v":0.77,"s":"25.0% AL14"},{"t":37.7,"v":1.01,"s":"25.0% AL14"},{"t":39.2,"v":1.26,"s":"25.0% AL14"},{"t":40.7,"v":1.45,"s":"25.0% AL14"},{"t":42.2,"v":1.42,"s":"25.0% AL14"},{"t":43.7,"v":1.11,"s":"25.0% AL14"},{"t":45.2,"v":0.52,"s":"25.0% AL14"},{"t":46.7,"v":0.35,"s":"25.0% AL14"},{"t":48.2,"v":0.30,"s":"25.0% AL14"},{"t":49.7,"v":0.28,"s":"25.0% AL14"},{"t":51.2,"v":0.28,"s":"25.0% AL14"},{"t":52.7,"v":0.28,"s":"25.0% AL14"},{"t":54.2,"v":0.28,"s":"25.0% AL14"},{"t":55.7,"v":0.28,"s":"25.0% AL14"},{"t":57.2,"v":0.28,"s":"25.0% AL14"},{"t":58.7,"v":0.28,"s":"25.0% AL14"},{"t":60.2,"v":0.28,"s":"25.0% AL14"},{"t":61.7,"v":0.28,"s":"25.0% AL14"},{"t":63.2,"v":0.28,"s":"25.0% AL14"},{"t":64.7,"v":0.28,"s":"25.0% AL14"},{"t":66.2,"v":0.28,"s":"25.0% AL14"},{"t":67.7,"v":0.28,"s":"25.0% AL14"},{"t":69.2,"v":0.28,"s":"25.0% AL14"},{"t":70.7,"v":0.28,"s":"25.0% AL14"},{"t":72.2,"v":0.28,"s":"25.0% AL14"},{"t":73.7,"v":0.28,"s":"25.0% AL14"},{"t":75.2,"v":0.28,"s":"25.0% AL14"},{"t":76.7,"v":0.28,"s":"25.0% AL14"},{"t":78.2,"v":0.28,"s":"25.0% AL14"},{"t":79.7,"v":0.28,"s":"25.0% AL14"},
      {"t":10.7,"v":0.27,"s":"27.5% AL14"},{"t":12.2,"v":0.27,"s":"27.5% AL14"},{"t":13.7,"v":0.27,"s":"27.5% AL14"},{"t":15.2,"v":0.27,"s":"27.5% AL14"},{"t":16.7,"v":0.28,"s":"27.5% AL14"},{"t":18.2,"v":0.28,"s":"27.5% AL14"},{"t":19.7,"v":0.29,"s":"27.5% AL14"},{"t":21.2,"v":0.38,"s":"27.5% AL14"},{"t":22.7,"v":0.49,"s":"27.5% AL14"},{"t":24.2,"v":0.59,"s":"27.5% AL14"},{"t":25.7,"v":0.71,"s":"27.5% AL14"},{"t":27.2,"v":0.78,"s":"27.5% AL14"},{"t":28.7,"v":0.78,"s":"27.5% AL14"},{"t":30.2,"v":0.75,"s":"27.5% AL14"},{"t":31.7,"v":0.65,"s":"27.5% AL14"},{"t":33.2,"v":0.50,"s":"27.5% AL14"},{"t":34.7,"v":0.54,"s":"27.5% AL14"},{"t":36.2,"v":0.77,"s":"27.5% AL14"},{"t":37.7,"v":1.05,"s":"27.5% AL14"},{"t":39.2,"v":1.32,"s":"27.5% AL14"},{"t":40.7,"v":1.59,"s":"27.5% AL14"},{"t":42.2,"v":1.63,"s":"27.5% AL14"},{"t":43.7,"v":0.94,"s":"27.5% AL14"},{"t":45.2,"v":0.38,"s":"27.5% AL14"},{"t":46.7,"v":0.31,"s":"27.5% AL14"},{"t":48.2,"v":0.27,"s":"27.5% AL14"},{"t":49.7,"v":0.26,"s":"27.5% AL14"},{"t":51.2,"v":0.26,"s":"27.5% AL14"},{"t":52.7,"v":0.26,"s":"27.5% AL14"},{"t":54.2,"v":0.26,"s":"27.5% AL14"},{"t":55.7,"v":0.26,"s":"27.5% AL14"},{"t":57.2,"v":0.26,"s":"27.5% AL14"},{"t":58.7,"v":0.26,"s":"27.5% AL14"},{"t":60.2,"v":0.26,"s":"27.5% AL14"},{"t":61.7,"v":0.26,"s":"27.5% AL14"},{"t":63.2,"v":0.26,"s":"27.5% AL14"},{"t":64.7,"v":0.26,"s":"27.5% AL14"},{"t":66.2,"v":0.26,"s":"27.5% AL14"},{"t":67.7,"v":0.26,"s":"27.5% AL14"},{"t":69.2,"v":0.26,"s":"27.5% AL14"},{"t":70.7,"v":0.26,"s":"27.5% AL14"},{"t":72.2,"v":0.26,"s":"27.5% AL14"},{"t":73.7,"v":0.26,"s":"27.5% AL14"},{"t":75.2,"v":0.26,"s":"27.5% AL14"},{"t":76.7,"v":0.26,"s":"27.5% AL14"},{"t":78.2,"v":0.26,"s":"27.5% AL14"},{"t":79.7,"v":0.26,"s":"27.5% AL14"},
      {"t":10.7,"v":0.20,"s":"30.0% AL14"},{"t":12.2,"v":0.20,"s":"30.0% AL14"},{"t":13.7,"v":0.20,"s":"30.0% AL14"},{"t":15.2,"v":0.20,"s":"30.0% AL14"},{"t":16.7,"v":0.23,"s":"30.0% AL14"},{"t":18.2,"v":0.22,"s":"30.0% AL14"},{"t":19.7,"v":0.24,"s":"30.0% AL14"},{"t":21.2,"v":0.25,"s":"30.0% AL14"},{"t":22.7,"v":0.31,"s":"30.0% AL14"},{"t":24.2,"v":0.39,"s":"30.0% AL14"},{"t":25.7,"v":0.53,"s":"30.0% AL14"},{"t":27.2,"v":0.68,"s":"30.0% AL14"},{"t":28.7,"v":0.82,"s":"30.0% AL14"},{"t":30.2,"v":0.91,"s":"30.0% AL14"},{"t":31.7,"v":0.93,"s":"30.0% AL14"},{"t":33.2,"v":0.79,"s":"30.0% AL14"},{"t":34.7,"v":0.68,"s":"30.0% AL14"},{"t":36.2,"v":0.87,"s":"30.0% AL14"},{"t":37.7,"v":1.10,"s":"30.0% AL14"},{"t":39.2,"v":1.30,"s":"30.0% AL14"},{"t":40.7,"v":1.48,"s":"30.0% AL14"},{"t":42.2,"v":1.45,"s":"30.0% AL14"},{"t":43.7,"v":0.92,"s":"30.0% AL14"},{"t":45.2,"v":0.43,"s":"30.0% AL14"},{"t":46.7,"v":0.33,"s":"30.0% AL14"},{"t":48.2,"v":0.28,"s":"30.0% AL14"},{"t":49.7,"v":0.27,"s":"30.0% AL14"},{"t":51.2,"v":0.27,"s":"30.0% AL14"},{"t":52.7,"v":0.27,"s":"30.0% AL14"},{"t":54.2,"v":0.27,"s":"30.0% AL14"},{"t":55.7,"v":0.27,"s":"30.0% AL14"},{"t":57.2,"v":0.27,"s":"30.0% AL14"},{"t":58.7,"v":0.27,"s":"30.0% AL14"},{"t":60.2,"v":0.27,"s":"30.0% AL14"},{"t":61.7,"v":0.27,"s":"30.0% AL14"},{"t":63.2,"v":0.27,"s":"30.0% AL14"},{"t":64.7,"v":0.27,"s":"30.0% AL14"},{"t":66.2,"v":0.27,"s":"30.0% AL14"},{"t":67.7,"v":0.27,"s":"30.0% AL14"},{"t":69.2,"v":0.27,"s":"30.0% AL14"},{"t":70.7,"v":0.27,"s":"30.0% AL14"},{"t":72.2,"v":0.27,"s":"30.0% AL14"},{"t":73.7,"v":0.27,"s":"30.0% AL14"},{"t":75.2,"v":0.27,"s":"30.0% AL14"},{"t":76.7,"v":0.27,"s":"30.0% AL14"},{"t":78.2,"v":0.27,"s":"30.0% AL14"},{"t":79.7,"v":0.27,"s":"30.0% AL14"}
    ]
  },
  "concat": [
    {
      "width": 1182, "height": 874,
      "title": "(a) AC12/AL18",
      "layer": [
        {"data": {"name": "a"}, "mark": {"type": "line", "color": "black", "strokeWidth": 2},
         "encoding": {
           "x": {"field": "t", "type": "quantitative", "scale": {"domain": [10, 80], "nice": false}, "axis": {"values": [10, 20, 30, 40, 50, 60, 70, 80], "title": "温度/℃"}},
           "y": {"field": "v", "type": "quantitative", "scale": {"domain": [0, 3], "nice": false}, "axis": {"values": [0, 0.5, 1, 1.5, 2, 2.5, 3], "labelExpr": "datum.value == 0 ? '0' : format(datum.value, '.1f')", "title": "热流/(mW·mg⁻¹)"}},
           "detail": {"field": "s", "type": "nominal"}}},
        {"data": {"name": "a"}, "mark": {"type": "point", "filled": true, "color": "black", "opacity": 1, "size": 484},
         "encoding": {
           "x": {"field": "t", "type": "quantitative"},
           "y": {"field": "v", "type": "quantitative"},
           "shape": {"field": "s", "type": "nominal", "scale": {"domain": ["62.5% AC12", "65.0% AC12", "67.8% AC12", "70.0% AC12", "72.5% AC12"], "range": ["M-1,-1H1V1H-1Z", "circle", "M0,-1.55L1.27,0.95L-1.27,0.95Z", "M0,1.55L-1.27,-0.95L1.27,-0.95Z", "M-1.45,0L0.85,-1.3L0.85,1.3Z"]}, "legend": null}}},
        {"data": {"values": []}, "mark": {"type": "point", "filled": true, "color": "black", "opacity": 1, "size": 484},
         "encoding": {
           "shape": {"field": "s", "type": "nominal",
             "scale": {"domain": ["62.5% AC12", "65.0% AC12", "67.8% AC12", "70.0% AC12", "72.5% AC12"],
               "range": ["M-5.68,-0.09H5.68V0.09H-5.68ZM-1,-1H1V1H-1Z", "M-5.68,-0.09H5.68V0.09H-5.68ZM1,0A1,1,0,1,1,-1,0A1,1,0,1,1,1,0Z", "M-5.68,-0.09H5.68V0.09H-5.68ZM0,-1.6L1.27,0.9L-1.27,0.9Z", "M-5.68,-0.09H5.68V0.09H-5.68ZM0,1.6L-1.27,-0.9L1.27,-0.9Z", "M-5.68,-0.09H5.68V0.09H-5.68ZM-1.45,0L0.85,-1.3L0.85,1.3Z"]},
             "legend": {"legendX": 727, "legendY": 75}}}}
      ],
      "resolve": {"scale": {"shape": "independent"}}
    },
    {
      "width": 1182, "height": 874,
      "title": "(b) AC16/AL14",
      "layer": [
        {"data": {"name": "b"}, "mark": {"type": "line", "color": "black", "strokeWidth": 2},
         "encoding": {
           "x": {"field": "t", "type": "quantitative", "scale": {"domain": [10, 80], "nice": false}, "axis": {"values": [10, 20, 30, 40, 50, 60, 70, 80], "title": "温度/℃"}},
           "y": {"field": "v", "type": "quantitative", "scale": {"domain": [0, 3], "nice": false}, "axis": {"values": [0, 0.5, 1, 1.5, 2, 2.5, 3], "labelExpr": "datum.value == 0 ? '0' : format(datum.value, '.1f')", "title": "热流/(mW·mg⁻¹)"}},
           "detail": {"field": "s", "type": "nominal"}}},
        {"data": {"name": "b"}, "mark": {"type": "point", "filled": true, "color": "black", "opacity": 1, "size": 484},
         "encoding": {
           "x": {"field": "t", "type": "quantitative"},
           "y": {"field": "v", "type": "quantitative"},
           "shape": {"field": "s", "type": "nominal", "scale": {"domain": ["25.0% AC16", "27.5% AC16", "30.7% AC16", "32.5% AC16", "35.0% AC16"], "range": ["M-1,-1H1V1H-1Z", "circle", "M0,-1.55L1.27,0.95L-1.27,0.95Z", "M0,1.55L-1.27,-0.95L1.27,-0.95Z", "M-1.45,0L0.85,-1.3L0.85,1.3Z"]}, "legend": null}}},
        {"data": {"values": []}, "mark": {"type": "point", "filled": true, "color": "black", "opacity": 1, "size": 484},
         "encoding": {
           "shape": {"field": "s", "type": "nominal",
             "scale": {"domain": ["25.0% AC16", "27.5% AC16", "30.7% AC16", "32.5% AC16", "35.0% AC16"],
               "range": ["M-5.68,-0.09H5.68V0.09H-5.68ZM-1,-1H1V1H-1Z", "M-5.68,-0.09H5.68V0.09H-5.68ZM1,0A1,1,0,1,1,-1,0A1,1,0,1,1,1,0Z", "M-5.68,-0.09H5.68V0.09H-5.68ZM0,-1.6L1.27,0.9L-1.27,0.9Z", "M-5.68,-0.09H5.68V0.09H-5.68ZM0,1.6L-1.27,-0.9L1.27,-0.9Z", "M-5.68,-0.09H5.68V0.09H-5.68ZM-1.45,0L0.85,-1.3L0.85,1.3Z"]},
             "legend": {"legendX": 723, "legendY": 127}}}}
      ],
      "resolve": {"scale": {"shape": "independent"}}
    },
    {
      "width": 1182, "height": 874,
      "title": "(c) AC18/AL14",
      "layer": [
        {"data": {"name": "c"}, "mark": {"type": "line", "color": "black", "strokeWidth": 2},
         "encoding": {
           "x": {"field": "t", "type": "quantitative", "scale": {"domain": [10, 80], "nice": false}, "axis": {"values": [10, 20, 30, 40, 50, 60, 70, 80], "title": "温度/℃"}},
           "y": {"field": "v", "type": "quantitative", "scale": {"domain": [0, 3], "nice": false}, "axis": {"values": [0, 0.5, 1, 1.5, 2, 2.5, 3], "labelExpr": "datum.value == 0 ? '0' : format(datum.value, '.1f')", "title": "热流/(mW·mg⁻¹)"}},
           "detail": {"field": "s", "type": "nominal"}}},
        {"data": {"name": "c"}, "mark": {"type": "point", "filled": true, "color": "black", "opacity": 1, "size": 484},
         "encoding": {
           "x": {"field": "t", "type": "quantitative"},
           "y": {"field": "v", "type": "quantitative"},
           "shape": {"field": "s", "type": "nominal", "scale": {"domain": ["20.0% AC18", "22.5% AC18", "25.2% AC18", "27.5% AC18", "30.0% AC18"], "range": ["M-1,-1H1V1H-1Z", "circle", "M0,-1.55L1.27,0.95L-1.27,0.95Z", "M0,1.55L-1.27,-0.95L1.27,-0.95Z", "M-1.45,0L0.85,-1.3L0.85,1.3Z"]}, "legend": null}}},
        {"data": {"values": []}, "mark": {"type": "point", "filled": true, "color": "black", "opacity": 1, "size": 484},
         "encoding": {
           "shape": {"field": "s", "type": "nominal",
             "scale": {"domain": ["20.0% AC18", "22.5% AC18", "25.2% AC18", "27.5% AC18", "30.0% AC18"],
               "range": ["M-5.68,-0.09H5.68V0.09H-5.68ZM-1,-1H1V1H-1Z", "M-5.68,-0.09H5.68V0.09H-5.68ZM1,0A1,1,0,1,1,-1,0A1,1,0,1,1,1,0Z", "M-5.68,-0.09H5.68V0.09H-5.68ZM0,-1.6L1.27,0.9L-1.27,0.9Z", "M-5.68,-0.09H5.68V0.09H-5.68ZM0,1.6L-1.27,-0.9L1.27,-0.9Z", "M-5.68,-0.09H5.68V0.09H-5.68ZM-1.45,0L0.85,-1.3L0.85,1.3Z"]},
             "legend": {"legendX": 705, "legendY": 118}}}}
      ],
      "resolve": {"scale": {"shape": "independent"}}
    },
    {
      "width": 1182, "height": 874,
      "title": "(d) AL14/AL18",
      "layer": [
        {"data": {"name": "d"}, "mark": {"type": "line", "color": "black", "strokeWidth": 2},
         "encoding": {
           "x": {"field": "t", "type": "quantitative", "scale": {"domain": [10, 80], "nice": false}, "axis": {"values": [10, 20, 30, 40, 50, 60, 70, 80], "title": "温度/℃"}},
           "y": {"field": "v", "type": "quantitative", "scale": {"domain": [0, 2], "nice": false}, "axis": {"values": [0, 0.4, 0.8, 1.2, 1.6, 2], "labelExpr": "datum.value == 0 ? '0' : format(datum.value, '.1f')", "title": "热流/(mW·mg⁻¹)"}},
           "detail": {"field": "s", "type": "nominal"}}},
        {"data": {"name": "d"}, "mark": {"type": "point", "filled": true, "color": "black", "opacity": 1, "size": 484},
         "encoding": {
           "x": {"field": "t", "type": "quantitative"},
           "y": {"field": "v", "type": "quantitative"},
           "shape": {"field": "s", "type": "nominal", "scale": {"domain": ["20.0% AL14", "22.5% AL14", "25.0% AL14", "27.5% AL14", "30.0% AL14"], "range": ["M-1,-1H1V1H-1Z", "circle", "M0,-1.55L1.27,0.95L-1.27,0.95Z", "M0,1.55L-1.27,-0.95L1.27,-0.95Z", "M-1.45,0L0.85,-1.3L0.85,1.3Z"]}, "legend": null}}},
        {"data": {"values": []}, "mark": {"type": "point", "filled": true, "color": "black", "opacity": 1, "size": 484},
         "encoding": {
           "shape": {"field": "s", "type": "nominal",
             "scale": {"domain": ["20.0% AL14", "22.5% AL14", "25.0% AL14", "27.5% AL14", "30.0% AL14"],
               "range": ["M-5.68,-0.09H5.68V0.09H-5.68ZM-1,-1H1V1H-1Z", "M-5.68,-0.09H5.68V0.09H-5.68ZM1,0A1,1,0,1,1,-1,0A1,1,0,1,1,1,0Z", "M-5.68,-0.09H5.68V0.09H-5.68ZM0,-1.6L1.27,0.9L-1.27,0.9Z", "M-5.68,-0.09H5.68V0.09H-5.68ZM0,1.6L-1.27,-0.9L1.27,-0.9Z", "M-5.68,-0.09H5.68V0.09H-5.68ZM-1.45,0L0.85,-1.3L0.85,1.3Z"]},
             "legend": {"legendX": 747, "legendY": 127}}}}
      ],
      "resolve": {"scale": {"shape": "independent"}}
    }
  ]
}
